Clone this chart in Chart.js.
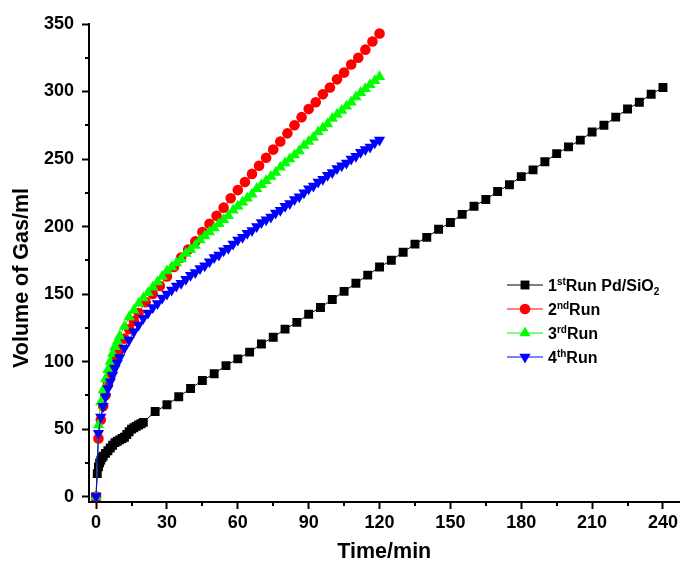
<!DOCTYPE html>
<html>
<head>
    <!-- Chart.js from the CDN -->
    <script src="https://cdn.jsdelivr.net/npm/chart.js@4.4.0/dist/chart.umd.min.js"></script>
    <title>Volume of Gas vs Time</title>
    <style>
      body { margin: 0; background: #fff; }
    </style>
</head>
<body>
  <canvas id="gasChart" width="686" height="571"></canvas>

  <script>
    // Axis ticks
    const xTicks = [0, 30, 60, 90, 120, 150, 180, 210, 240];
    const xMinor = [15, 45, 75, 105, 135, 165, 195, 225];
    const yTicks = [0, 50, 100, 150, 200, 250, 300, 350];
    const yMinor = [25, 75, 125, 175, 225, 275, 325];

    // 1st run Pd/SiO2 (time in min, volume in ml)
    const run1Time = [0, 0.5, 1, 1.5, 2, 2.5, 3, 4, 5, 6, 7, 8, 9, 10, 11, 12, 13, 14, 15, 16, 17, 18, 19, 20,
      25, 30, 35, 40, 45, 50, 55, 60, 65, 70, 75, 80, 85, 90, 95, 100, 105, 110, 115, 120,
      125, 130, 135, 140, 145, 150, 155, 160, 165, 170, 175, 180, 185, 190, 195, 200,
      205, 210, 215, 220, 225, 230, 235, 240];
    const run1Vol = [0, 17, 22, 25, 27, 29, 30, 32, 34, 36, 38, 40, 41, 42, 43, 44, 46, 48, 50, 51, 52, 53, 54, 55,
      63, 68, 74, 80, 86, 91, 97, 102, 107, 113, 118, 124, 129, 135, 140, 146, 152, 158, 164, 170,
      175, 181, 187, 192, 198, 203, 209, 215, 220, 226, 231, 237, 242, 248, 254, 259,
      264, 270, 275, 281, 287, 292, 298, 303];

    // 2nd run
    const run2Time = [0, 1, 2, 3, 4, 5, 6, 7, 8, 9, 10, 12, 14, 16, 18,
      21, 24, 27, 30, 33, 36, 39, 42, 45, 48, 51, 54, 57, 60, 63, 66, 69, 72, 75, 78,
      81, 84, 87, 90, 93, 96, 99, 102, 105, 108, 111, 114, 117, 120];
    const run2Vol = [0, 43, 57, 67, 75, 83, 89, 95, 100, 105, 109, 117, 124, 130, 136,
      144, 150, 156, 163, 170, 177, 183, 189, 196, 202, 208, 214, 221, 227, 233, 239, 245, 251, 257, 263,
      269, 275, 281, 287, 292, 298, 303, 309, 314, 320, 325, 331, 337, 343];

    // 3rd and 4th runs share the sampling times
    const run34Time = [0, 1, 2, 3, 4, 5, 6, 7, 8, 9, 10,
      12, 14, 16, 18, 20, 22, 24, 26, 28, 30, 32, 34, 36, 38, 40, 42, 44, 46, 48, 50,
      52, 54, 56, 58, 60, 62, 64, 66, 68, 70, 72, 74, 76, 78, 80, 82, 84, 86, 88, 90,
      92, 94, 96, 98, 100, 102, 104, 106, 108, 110, 112, 114, 116, 118, 120];
    const run3Vol = [0, 53, 70, 79, 87, 94, 100, 106, 111, 115, 119,
      126, 133, 138, 143, 147, 151, 155, 159, 163, 167, 170, 173, 176, 180, 183, 186, 190, 193, 196, 199,
      202, 205, 208, 212, 215, 218, 221, 224, 228, 231, 234, 237, 240, 244, 247, 250, 253, 256, 260, 263,
      266, 270, 273, 276, 280, 283, 286, 289, 292, 296, 299, 302, 305, 308, 311];
    const run4Vol = [0, 47, 59, 67, 74, 80, 85, 90, 95, 99, 103,
      110, 116, 122, 127, 132, 136, 140, 143, 147, 150, 153, 156, 158, 161, 164, 166, 169, 171, 174, 177,
      179, 182, 184, 187, 190, 192, 195, 197, 200, 203, 205, 207, 210, 212, 215, 217, 220, 222, 225, 228,
      230, 233, 235, 238, 240, 243, 245, 247, 250, 252, 255, 257, 259, 262, 264];

    // Legend labels: [normal, superscript, normal, subscript]
    const legendLabels = [
      ["1", "st", "Run Pd/SiO", "2"],
      ["2", "nd", "Run", ""],
      ["3", "rd", "Run", ""],
      ["4", "th", "Run", ""]
    ];

    const FONT = "'Liberation Sans', Arial, sans-serif";

    function pairs(xs, ys) {
      return xs.map((x, i) => ({ x: x, y: ys[i] }));
    }

    // short minor ticks on both axes
    const minorTicks = {
      id: "minorTicks",
      afterDraw(chart) {
        const ctx = chart.ctx;
        const xs = chart.scales.x;
        const ys = chart.scales.y;
        ctx.save();
        ctx.strokeStyle = "#000";
        ctx.lineWidth = 2;
        xMinor.forEach(v => {
          const px = Math.round(xs.getPixelForValue(v));
          ctx.beginPath();
          ctx.moveTo(px, xs.top);
          ctx.lineTo(px, xs.top + 4);
          ctx.stroke();
        });
        yMinor.forEach(v => {
          const py = Math.round(ys.getPixelForValue(v));
          ctx.beginPath();
          ctx.moveTo(ys.right, py);
          ctx.lineTo(ys.right - 4, py);
          ctx.stroke();
        });
        ctx.restore();
      }
    };

    // legend with superscripts / subscripts
    const runLegend = {
      id: "runLegend",
      afterDraw(chart) {
        const ctx = chart.ctx;
        const x0 = 507, rowY = [285, 309, 333, 357];
        ctx.save();
        chart.data.datasets.forEach((ds, i) => {
          const y = rowY[i];
          ctx.strokeStyle = ds.borderColor;
          ctx.fillStyle = ds.backgroundColor;
          ctx.lineWidth = 1;
          ctx.beginPath();
          ctx.moveTo(x0, y);
          ctx.lineTo(x0 + 36, y);
          ctx.stroke();
          Chart.helpers.drawPoint(ctx, {
            pointStyle: ds.pointStyle,
            radius: ds.pointRadius,
            rotation: ds.pointRotation || 0,
            borderWidth: 0
          }, x0 + 18, y);

          const parts = legendLabels[i];
          let tx = x0 + 41;
          ctx.fillStyle = "#000";
          ctx.textBaseline = "alphabetic";
          ctx.textAlign = "left";
          const base = y + 6;
          ctx.font = "bold 16px " + FONT;
          ctx.fillText(parts[0], tx, base);
          tx += ctx.measureText(parts[0]).width;
          ctx.font = "bold 10px " + FONT;
          ctx.fillText(parts[1], tx, base - 6);
          tx += ctx.measureText(parts[1]).width;
          ctx.font = "bold 16px " + FONT;
          ctx.fillText(parts[2], tx, base);
          tx += ctx.measureText(parts[2]).width;
          if (parts[3]) {
            ctx.font = "bold 10px " + FONT;
            ctx.fillText(parts[3], tx, base + 4);
          }
        });
        ctx.restore();
      }
    };

    const ctx = document.getElementById("gasChart").getContext("2d");
    const chart = new Chart(ctx, {
      type: "line",
      data: {
        datasets: [
          {
            label: "1st Run Pd/SiO2",
            data: pairs(run1Time, run1Vol),
            borderColor: "#000000",
            backgroundColor: "#000000",
            borderWidth: 1,
            pointStyle: "rect",
            pointRadius: 6.3,
            pointBorderWidth: 0,
            order: 4
          },
          {
            label: "2nd Run",
            data: pairs(run2Time, run2Vol),
            borderColor: "#ff0000",
            backgroundColor: "#ff0000",
            borderWidth: 1,
            pointStyle: "circle",
            pointRadius: 5.3,
            pointBorderWidth: 0,
            order: 3
          },
          {
            label: "3rd Run",
            data: pairs(run34Time, run3Vol),
            borderColor: "#00ff00",
            backgroundColor: "#00ff00",
            borderWidth: 1,
            pointStyle: "triangle",
            pointRadius: 6.5,
            pointBorderWidth: 0,
            order: 2
          },
          {
            label: "4th Run",
            data: pairs(run34Time, run4Vol),
            borderColor: "#0000ff",
            backgroundColor: "#0000ff",
            borderWidth: 1,
            pointStyle: "triangle",
            pointRotation: 180,
            pointRadius: 6.5,
            pointBorderWidth: 0,
            order: 1
          }
        ]
      },
      options: {
        responsive: false,
        animation: false,
        layout: { padding: { top: 24, right: 2, left: 0, bottom: 0 } },
        plugins: {
          legend: { display: false },
          tooltip: { enabled: false }
        },
        elements: { line: { tension: 0 } },
        scales: {
          x: {
            type: "linear",
            min: -3,
            max: 247,
            afterBuildTicks: s => { s.ticks = xTicks.map(v => ({ value: v })); },
            afterFit: s => { s.height = 69; },
            ticks: {
              color: "#000",
              font: { family: FONT, size: 18, weight: "bold" },
              padding: 3,
              maxRotation: 0,
              autoSkip: false
            },
            grid: { drawOnChartArea: false, tickLength: 7, tickWidth: 2, tickColor: "#000" },
            border: { color: "#000", width: 2 },
            title: {
              display: true,
              text: "Time/min",
              color: "#000",
              font: { family: FONT, size: 21.5, weight: "bold" },
              padding: { top: 0, bottom: 6 }
            }
          },
          y: {
            min: -4,
            max: 350,
            afterBuildTicks: s => { s.ticks = yTicks.map(v => ({ value: v })); },
            afterFit: s => { s.width = 89; },
            ticks: {
              color: "#000",
              font: { family: FONT, size: 18, weight: "bold" },
              padding: 8,
              autoSkip: false
            },
            grid: { drawOnChartArea: false, tickLength: 7, tickWidth: 2, tickColor: "#000" },
            border: { color: "#000", width: 2 },
            title: {
              display: true,
              // trailing spaces push the rotated title down like in the original
              text: "Volume of Gas/ml     ",
              color: "#000",
              font: { family: FONT, size: 21.5, weight: "bold" },
              padding: { top: 9, bottom: 0 }
            }
          }
        }
      },
      plugins: [minorTicks, runLegend]
    });
  </script>
</body>
</html>
